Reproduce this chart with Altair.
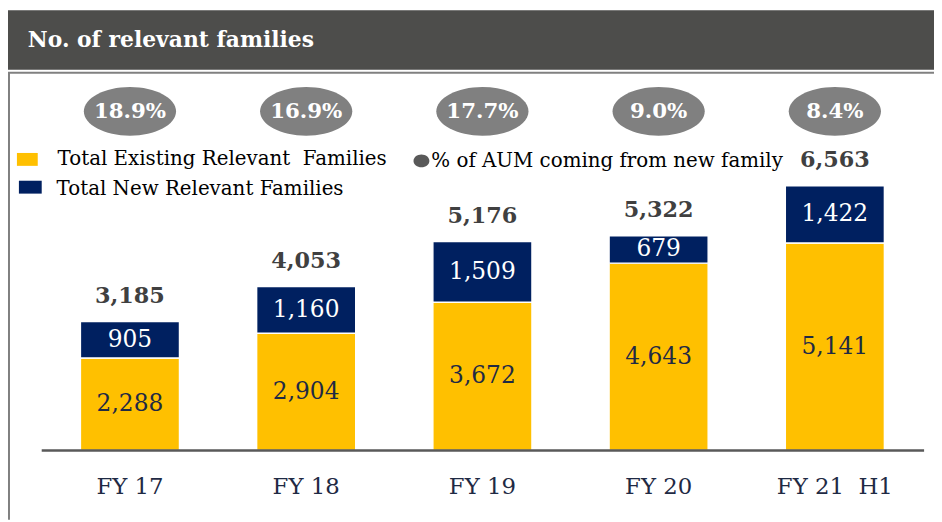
import altair as alt
import pandas as pd

TITLE = "No. of relevant families"
years = ["FY 17", "FY 18", "FY 19", "FY 20", "FY 21\u00a0 H1"]
existing = [2288, 2904, 3672, 4643, 5141]
new_fam = [905, 1160, 1509, 679, 1422]
totals = [3185, 4053, 5176, 5322, 6563]
aum_pct = [18.9, 16.9, 17.7, 9.0, 8.4]
seg_names = ["Total Existing Relevant\u00a0 Families", "Total New Relevant Families"]
aum_legend = "% of AUM coming from new family"

YELLOW = "#FFC000"
NAVY = "#002060"
FONT = "DejaVu Serif"

rows = []
for i, y in enumerate(years):
    rows.append({"year": y, "segment": seg_names[0], "value": existing[i], "order": 0})
    rows.append({"year": y, "segment": seg_names[1], "value": new_fam[i], "order": 1})
seg_df = pd.DataFrame(rows)
tot_df = pd.DataFrame({"year": years, "total": totals})
aum_df = pd.DataFrame({"year": years, "aum": aum_pct})

xscale = alt.Scale(domain=years, range=[73, 884], paddingInner=0.4374, paddingOuter=0)
yscale = alt.Scale(domain=[0, 10914])

x_enc = alt.X("year:N", sort=years, scale=xscale,
              axis=alt.Axis(title=None, domain=False, ticks=False, labelFont=FONT,
                            labelFontSize=23, labelColor="#1F2A44", labelPadding=25,
                            labelAngle=0))
x_plain = alt.X("year:N", sort=years, scale=xscale)

stacked = alt.Chart(seg_df).transform_stack(
    stack="value", groupby=["year"], as_=["y0", "y1"],
    sort=[alt.SortField("order", order="ascending")]
).transform_calculate(mid="(datum.y0 + datum.y1) / 2")

bars = stacked.mark_bar(stroke="white", strokeWidth=1.5).encode(
    x=x_enc,
    y=alt.Y("y0:Q", scale=yscale, axis=None),
    y2="y1:Q",
    color=alt.Color("segment:N", scale=alt.Scale(domain=seg_names, range=[YELLOW, NAVY]), legend=None),
)

lab_exist = stacked.transform_filter(alt.datum.order == 0).mark_text(
    font=FONT, fontSize=23.5, baseline="middle", color="#1F2A44").encode(
    x=x_plain, y=alt.Y("mid:Q", scale=yscale), text=alt.Text("value:Q", format=","))
lab_new = stacked.transform_filter(alt.datum.order == 1).mark_text(
    font=FONT, fontSize=23.5, baseline="middle", color="white").encode(
    x=x_plain, y=alt.Y("mid:Q", scale=yscale), text=alt.Text("value:Q", format=","))

tot_labels = alt.Chart(tot_df).mark_text(font=FONT, fontSize=22.5, fontWeight="bold",
                                         color="#404040", baseline="middle", dy=-26).encode(
    x=x_plain,
    y=alt.Y("total:Q", scale=yscale),
    text=alt.Text("total:Q", format=","),
)

ELLIPSE = "M-1,0 A1,0.53 0 1,1 1,0 A1,0.53 0 1,1 -1,0 Z"
ellipses = alt.Chart(aum_df).mark_point(shape=ELLIPSE, filled=True, color="#808080",
                                        opacity=1, size=8650).encode(
    x=x_plain,
    y=alt.value(102),
)
aum_labels = alt.Chart(aum_df).transform_calculate(
    lbl="format(datum.aum, '.1f') + '%'"
).mark_text(font=FONT, fontSize=21.5, fontWeight="bold", color="white", baseline="middle").encode(
    x=x_plain,
    y=alt.value(103),
    text="lbl:N",
)

baseline = alt.Chart(tot_df.head(1)).mark_rule(color="#595959", strokeWidth=2.5).encode(
    x=alt.value(34), x2=alt.value(924), y=alt.value(444))

# header bar and frame
header = alt.Chart(tot_df.head(1)).mark_rect(color="#4D4D4B").encode(
    x=alt.value(0), x2=alt.value(934), y=alt.value(0), y2=alt.value(60))
header_text = alt.Chart(pd.DataFrame({"t": [TITLE]})).mark_text(
    font=FONT, fontSize=22, fontWeight="bold", color="white", align="left", baseline="middle"
).encode(text="t:N", x=alt.value(20), y=alt.value(30))
frame_top = alt.Chart(tot_df.head(1)).mark_rule(color="#808080", strokeWidth=2).encode(
    x=alt.value(0), x2=alt.value(934), y=alt.value(63))
frame_left = alt.Chart(tot_df.head(1)).mark_rule(color="#808080", strokeWidth=2).encode(
    x=alt.value(1), y=alt.value(63), y2=alt.value(514))

# custom legend
leg_df = pd.DataFrame({"name": seg_names})
leg_rect1 = alt.Chart(leg_df.head(1)).mark_rect(color=YELLOW).encode(
    x=alt.value(9), x2=alt.value(30), y=alt.value(144), y2=alt.value(157))
leg_rect2 = alt.Chart(leg_df.head(1)).mark_rect(color=NAVY).encode(
    x=alt.value(11), x2=alt.value(34), y=alt.value(172), y2=alt.value(185))
leg_t1 = alt.Chart(pd.DataFrame({"t": [seg_names[0]]})).mark_text(
    font=FONT, fontSize=20, color="black", align="left", baseline="middle"
).encode(text="t:N", x=alt.value(50), y=alt.value(150))
leg_t2 = alt.Chart(pd.DataFrame({"t": [seg_names[1]]})).mark_text(
    font=FONT, fontSize=20, color="black", align="left", baseline="middle"
).encode(text="t:N", x=alt.value(49), y=alt.value(180))
leg_dot = alt.Chart(pd.DataFrame({"t": [aum_legend]})).mark_point(
    shape="M-1,0 A1,0.8 0 1,1 1,0 A1,0.8 0 1,1 -1,0 Z", filled=True, color="#595959",
    opacity=1, size=256).encode(x=alt.value(417), y=alt.value(152))
leg_t3 = alt.Chart(pd.DataFrame({"t": [aum_legend]})).mark_text(
    font=FONT, fontSize=20, color="black", align="left", baseline="middle"
).encode(text="t:N", x=alt.value(427), y=alt.value(152))

chart = alt.layer(
    header, header_text, frame_top, frame_left,
    bars, lab_exist, lab_new, tot_labels, baseline, ellipses, aum_labels,
    leg_rect1, leg_rect2, leg_t1, leg_t2, leg_dot, leg_t3,
).properties(
    width=934, height=444,
    autosize=alt.AutoSizeParams(type="none"),
    padding={"left": 0, "top": 0, "right": 0, "bottom": 70},
).configure_view(stroke=None)

chart.save("out.html", embed_options={"renderer": "svg", "actions": False})
